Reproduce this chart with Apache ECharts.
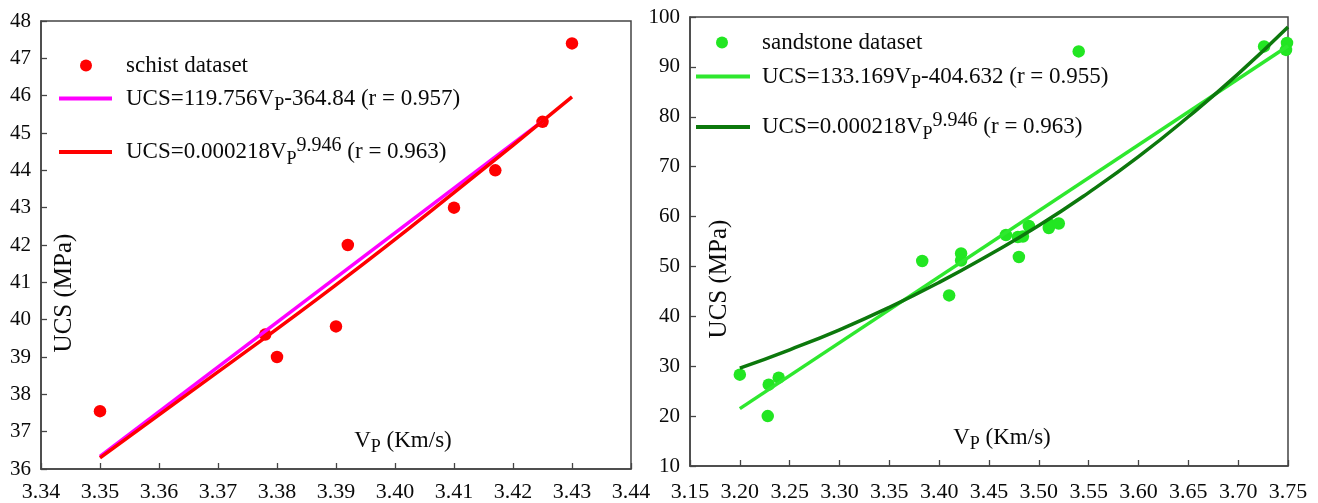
<!DOCTYPE html>
<html>
<head>
<meta charset="utf-8">
<title>UCS vs Vp</title>
<script src="https://cdn.jsdelivr.net/npm/echarts@6/dist/echarts.min.js"></script>
<style>
html,body{margin:0;padding:0;background:#fff;}
#chart{width:1318px;height:503px;}
</style>
</head>
<body>
<div id="chart"></div>
<script>
// schist dataset (left)
var schistVp  = [3.350, 3.378, 3.380, 3.390, 3.392, 3.410, 3.417, 3.425, 3.430];
var schistUcs = [37.55, 39.60, 39.00, 39.82, 42.00, 43.00, 44.00, 45.30, 47.40];
// fitted lines
var schistLinVp  = [3.350, 3.425];
var schistLinUcs = [36.34, 45.32];
var schistPowVp  = [3.350, 3.370, 3.390, 3.410, 3.430];
var schistPowUcs = [36.30, 38.60, 40.93, 43.40, 45.97];

// sandstone dataset (right)
var sandVp  = [3.200, 3.229, 3.239, 3.228, 3.383, 3.410, 3.422, 3.422, 3.467, 3.480,
               3.479, 3.484, 3.490, 3.510, 3.511, 3.520, 3.540, 3.726, 3.749, 3.748];
var sandUcs = [28.3, 26.3, 27.7, 20.0, 51.1, 44.2, 52.6, 51.2, 56.3, 51.9,
               55.9, 56.0, 58.1, 57.7, 58.4, 58.6, 93.1, 94.1, 94.8, 93.4];
var sandLinVp  = [3.20, 3.75];
var sandLinUcs = [21.5, 94.2];
var sandPowVp  = [3.20, 3.25, 3.30, 3.35, 3.40, 3.45, 3.50, 3.55, 3.60, 3.65, 3.70, 3.75];
var sandPowUcs = [29.6, 33.3, 37.3, 41.8, 46.8, 52.3, 58.2, 64.8, 72.0, 80.0, 88.6, 98.0];

// axis ranges
var schistXRange = [3.34, 3.44, 0.01];
var schistYRange = [36, 48, 1];
var sandXRange = [3.15, 3.75, 0.05];
var sandYRange = [10, 100, 10];

var FONT = '"Liberation Serif", "Times New Roman", serif';
var INK = '#0a0a0a';

function pairs(xs, ys) {
  return xs.map(function (x, i) { return [x, ys[i]]; });
}

var legendText = {
  schist: '{g1| }{t|schist dataset}',
  schistLin: '{g2| }{t|UCS=119.756V}{s|P}{t|-364.84 (r = 0.957)}',
  schistPow: '{g2| }{t|UCS=0.000218V}{s|P}{u|9.946}{t| (r = 0.963)}',
  sand: '{g1| }{t|sandstone dataset}',
  sandLin: '{g3| }{t|UCS=133.169V}{s|P}{t|-404.632 (r = 0.955)}',
  sandPow: '{g3| }{t|UCS=0.000218V}{s|P}{u|9.946}{t| (r = 0.963)}'
};

var rich = {
  t: {fontFamily: FONT, fontSize: 23, color: INK, lineHeight: 32},
  s: {fontFamily: FONT, fontSize: 18, color: INK, lineHeight: 10, verticalAlign: 'bottom'},
  u: {fontFamily: FONT, fontSize: 20, color: INK, lineHeight: 2, verticalAlign: 'top'},
  g1: {width: 29, fontSize: 10},
  g2: {width: 9, fontSize: 10},
  g3: {width: 7, fontSize: 10}
};

function legendItem(name, left, centerY, isDot, width) {
  return {
    data: [name],
    left: left,
    top: centerY - 16,
    padding: 0,
    icon: isDot ? 'circle' : 'rect',
    itemWidth: isDot ? 12 : width,
    itemHeight: isDot ? 12 : 4,
    selectedMode: false,
    formatter: function (n) { return legendText[n]; },
    textStyle: {rich: rich}
  };
}

function xAxisOf(idx, range, margin) {
  return {
    type: 'value', gridIndex: idx,
    min: range[0], max: range[1], interval: range[2],
    axisLine: {lineStyle: {color: '#444', width: 1.5}},
    axisTick: {inside: true, length: 6, lineStyle: {color: '#444', width: 1.3}},
    axisLabel: {fontFamily: FONT, fontSize: 22, color: INK, margin: margin,
      formatter: function (v) { return v.toFixed(2); }},
    splitLine: {show: false}
  };
}

function yAxisOf(idx, range) {
  return {
    type: 'value', gridIndex: idx,
    min: range[0], max: range[1], interval: range[2],
    axisLine: {show: true, lineStyle: {color: '#444', width: 1.5}},
    axisTick: {show: true, inside: true, length: 6, lineStyle: {color: '#444', width: 1.3}},
    axisLabel: {fontFamily: FONT, fontSize: 21, color: INK, margin: 10},
    splitLine: {show: false}
  };
}

function axisName(x, y, rotated) {
  if (rotated) {
    return {
      type: 'text', x: x, y: y, rotation: Math.PI / 2,
      style: {text: 'UCS (MPa)', font: '25px ' + FONT, fill: INK, align: 'center', verticalAlign: 'middle'}
    };
  }
  return {
    type: 'text', x: x, y: y,
    style: {
      text: '{m|V}{s|P}{m| (Km/s)}',
      align: 'center', verticalAlign: 'middle',
      rich: {
        m: {fontFamily: FONT, fontSize: 23, fill: INK, lineHeight: 30},
        s: {fontFamily: FONT, fontSize: 18, fill: INK, lineHeight: 10, verticalAlign: 'bottom'}
      }
    }
  };
}

var chart = echarts.init(document.getElementById('chart'));

var option = {
  backgroundColor: '#fff',
  animation: false,
  grid: [
    {left: 41, top: 21, width: 590, height: 451, show: true, borderColor: '#444', borderWidth: 1.5},
    {left: 690, top: 17, width: 598, height: 451, show: true, borderColor: '#444', borderWidth: 1.5}
  ],
  xAxis: [xAxisOf(0, schistXRange, 12), xAxisOf(1, sandXRange, 15)],
  yAxis: [yAxisOf(0, schistYRange), yAxisOf(1, sandYRange)],
  legend: [
    legendItem('schist', 80, 70, true),
    legendItem('schistLin', 59, 103, false, 53),
    legendItem('schistPow', 59, 152, false, 53),
    legendItem('sand', 716, 47, true),
    legendItem('sandLin', 696, 81, false, 54),
    legendItem('sandPow', 696, 127, false, 54)
  ],
  graphic: [
    axisName(64, 293, true),
    axisName(403, 441, false),
    axisName(719, 279, true),
    axisName(1002, 438, false)
  ],
  series: [
    {
      name: 'schist', type: 'scatter', xAxisIndex: 0, yAxisIndex: 0,
      symbolSize: 12.5, itemStyle: {color: '#ff0000', opacity: 1},
      data: pairs(schistVp, schistUcs)
    },
    {
      name: 'schistLin', type: 'line', xAxisIndex: 0, yAxisIndex: 0,
      showSymbol: false, symbol: 'none', itemStyle: {color: '#ff00ff'},
      lineStyle: {color: '#ff00ff', width: 3.5},
      data: pairs(schistLinVp, schistLinUcs)
    },
    {
      name: 'schistPow', type: 'line', xAxisIndex: 0, yAxisIndex: 0,
      showSymbol: false, symbol: 'none', smooth: true, itemStyle: {color: '#ff0000'},
      lineStyle: {color: '#ff0000', width: 3.5},
      data: pairs(schistPowVp, schistPowUcs)
    },
    {
      name: 'sandLin', type: 'line', xAxisIndex: 1, yAxisIndex: 1,
      showSymbol: false, symbol: 'none', itemStyle: {color: '#2ee82e'},
      lineStyle: {color: '#2ee82e', width: 3.5},
      data: pairs(sandLinVp, sandLinUcs)
    },
    {
      name: 'sandPow', type: 'line', xAxisIndex: 1, yAxisIndex: 1,
      showSymbol: false, symbol: 'none', smooth: true, itemStyle: {color: '#0c780c'},
      lineStyle: {color: '#0c780c', width: 3.5},
      data: pairs(sandPowVp, sandPowUcs)
    },
    {
      name: 'sand', type: 'scatter', xAxisIndex: 1, yAxisIndex: 1,
      symbolSize: 12.5, itemStyle: {color: '#22e622', opacity: 1},
      data: pairs(sandVp, sandUcs)
    }
  ]
};

chart.setOption(option);
</script>
</body>
</html>
